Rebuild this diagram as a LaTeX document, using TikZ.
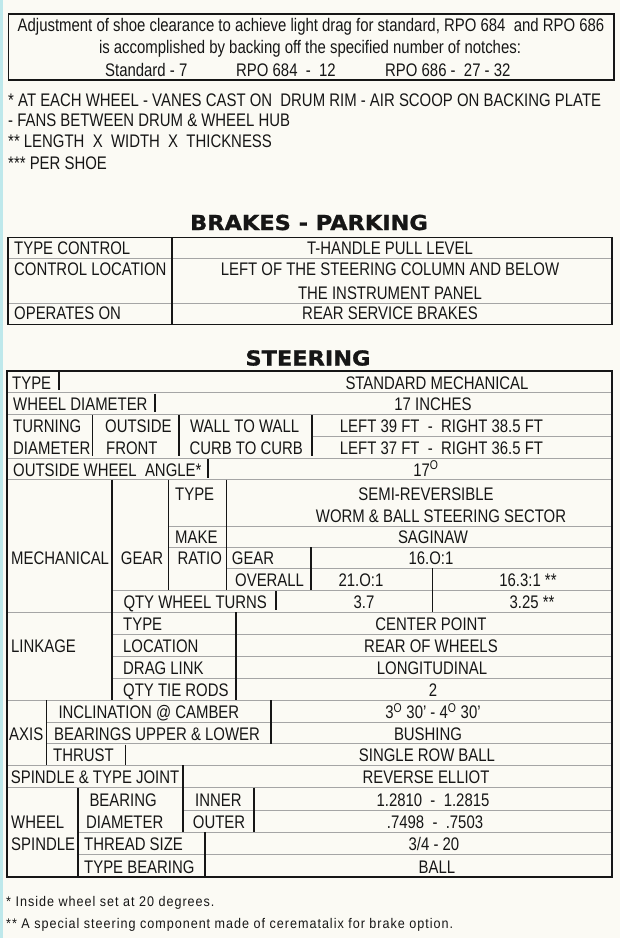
\documentclass[tikz,border=0pt]{standalone}
\usepackage{fontspec}
\setmainfont{Liberation Sans}[FakeStretch=0.82]
\newfontfamily\titlefont{DejaVu Sans}[FakeStretch=1.09,FakeBold=1.2]
\newfontfamily\footfont{Liberation Sans}[FakeStretch=0.9,LetterSpace=7]
\definecolor{bgc}{RGB}{251,250,244}
\definecolor{stripc}{RGB}{190,232,235}
\definecolor{rowgray}{RGB}{165,165,165}
\definecolor{ink}{RGB}{22,22,22}
\newcommand\msz{\fontsize{18.2}{20}\selectfont}
\newcommand\tsz{\titlefont\bfseries\fontsize{20.6}{24}\selectfont}
\newcommand\fsz{\footfont\fontsize{14}{16}\selectfont}
\begin{document}
\begin{tikzpicture}[x=1pt,y=-1pt,
  lab/.style={anchor=base west,inner sep=0pt,font=\msz,text=ink},
  val/.style={anchor=base,inner sep=0pt,font=\msz,text=ink},
  ttl/.style={anchor=base,inner sep=0pt,font=\tsz,text=ink},
  fnt/.style={anchor=base west,inner sep=0pt,font=\fsz,text=ink},
  hl/.style={draw=rowgray,line width=0.6pt},
  vl/.style={draw=ink,line width=1.2pt},
  frame/.style={draw=ink,line width=1.3pt}]
\fill[bgc] (0,0) rectangle (620,938);
\useasboundingbox (0,0) rectangle (620,938);
\fill[stripc] (0,0) rectangle (2.5,938);

% ---------- top box ----------
\draw[frame] (8.5,14) rectangle (614,80);
\node[val] (t1) at (311,31.8) {Adjustment of shoe clearance to achieve light drag for standard, RPO 684~ and RPO 686};
\node[val] (t2) at (310,53.3) {is accomplished by backing off the specified number of notches:};
\node[lab] (t3a) at (105,76.3) {Standard - 7};
\node[lab] (t3b) at (236,76.3) {RPO 684~ -~ 12};
\node[lab] (t3c) at (385,76.3) {RPO 686 -~ 27 - 32};

\node[lab] (f1) at (8,106.8) {* AT EACH WHEEL - VANES CAST ON~ DRUM RIM - AIR SCOOP ON BACKING PLATE};
\node[lab] (f2) at (8,126.1) {- FANS BETWEEN DRUM \& WHEEL HUB};
\node[lab] (f3) at (8,147.5) {** LENGTH~ X~ WIDTH~ X~ THICKNESS};
\node[lab] (f4) at (8,169.5) {*** PER SHOE};

% ---------- parking ----------
\node[ttl] (pt) at (309,230) {BRAKES - PARKING};
\draw[hl] (8,258) -- (612,258);
\draw[hl] (8,303) -- (612,303);
\draw[frame] (8,237.5) rectangle (612,324.5);
\draw[vl] (172,237.5) -- (172,324.5);
\node[lab] (p1) at (14,254.8) {TYPE CONTROL};
\node[lab] (p2) at (14,275.8) {CONTROL LOCATION};
\node[lab] (p3) at (14,319.8) {OPERATES ON};
\node[val] (p1v) at (390,254.8) {T-HANDLE PULL LEVEL};
\node[val] (p2v) at (390,275.8) {LEFT OF THE STEERING COLUMN AND BELOW};
\node[val] (p2w) at (390,299.3) {THE INSTRUMENT PANEL};
\node[val] (p3v) at (390,319.8) {REAR SERVICE BRAKES};

% ---------- steering ----------
\node[ttl] (st) at (308,365.5) {STEERING};
% horizontal row lines
\draw[hl] (7,392.5) -- (612,392.5);
\draw[hl] (7,414) -- (612,414);
\draw[hl] (312,436.5) -- (612,436.5);
\draw[hl] (7,458) -- (612,458);
\draw[hl] (7,479.5) -- (612,479.5);
\draw[hl] (168.5,526) -- (612,526);
\draw[hl] (168.5,547) -- (612,547);
\draw[hl] (226.5,568) -- (612,568);
\draw[hl] (112,590) -- (612,590);
\draw[hl] (7,612) -- (612,612);
\draw[hl] (112,634.5) -- (612,634.5);
\draw[hl] (112,656.5) -- (612,656.5);
\draw[hl] (112,678) -- (612,678);
\draw[hl] (7,700) -- (612,700);
\draw[hl] (46.7,722) -- (612,722);
\draw[hl] (46.7,743.5) -- (612,743.5);
\draw[hl] (7,765) -- (612,765);
\draw[hl] (7,787.5) -- (612,787.5);
\draw[hl] (183,810) -- (612,810);
\draw[hl] (78,832) -- (612,832);
\draw[hl] (78,854.5) -- (612,854.5);
% vertical separators
\draw[vl] (59,371) -- (59,390);
\draw[vl] (155,393.5) -- (155,412);
\draw[vl] (92.7,415) -- (92.7,456);
\draw[vl] (179,415) -- (179,456);
\draw[vl] (312,415) -- (312,456);
\draw[vl] (208,459) -- (208,478);
\draw[vl] (112,479.5) -- (112,700);
\draw[vl] (168.5,479.5) -- (168.5,590);
\draw[vl] (226.5,479.5) -- (226.5,590);
\draw[vl] (311,547) -- (311,590);
\draw[vl] (432.5,568) -- (432.5,612);
\draw[vl] (276,591) -- (276,610);
\draw[vl] (236,612) -- (236,700);
\draw[vl] (46.7,700) -- (46.7,765);
\draw[vl] (271,700) -- (271,743.5);
\draw[vl] (125.7,744.5) -- (125.7,765);
\draw[vl] (183,765) -- (183,832);
\draw[vl] (78,787.5) -- (78,877);
\draw[vl] (254,787.5) -- (254,832);
\draw[vl] (205,832) -- (205,877);
\draw[frame] (7,371) rectangle (612,877);

% labels
\node[lab] (s1) at (12,389) {TYPE};
\node[lab] (s2) at (13,410.5) {WHEEL DIAMETER};
\node[lab] (s3a) at (13,432.5) {TURNING};
\node[lab] (s3b) at (105,432.5) {OUTSIDE};
\node[lab] (s3c) at (190,432.5) {WALL TO WALL};
\node[lab] (s4a) at (13,454.5) {DIAMETER};
\node[lab] (s4b) at (106,454.5) {FRONT};
\node[lab] (s4c) at (189.3,454.5) {CURB TO CURB};
\node[lab] (s5) at (13,476) {OUTSIDE WHEEL~ ANGLE*};
\node[val] (s1v) at (437,389) {STANDARD MECHANICAL};
\node[val] (s2v) at (433,410.5) {17 INCHES};
\node[val] (s3v) at (441.5,432.5) {LEFT 39 FT~ -~ RIGHT 38.5 FT};
\node[val] (s4v) at (441.5,454.5) {LEFT 37 FT~ -~ RIGHT 36.5 FT};
\node[val] (s5v) at (426,476) {17\textsuperscript{O}};

\node[lab] (m1) at (11,564.8) {MECHANICAL};
\node[lab] (m2) at (120.7,564.8) {GEAR};
\node[lab] (m3) at (175,500.3) {TYPE};
\node[lab] (m4) at (175,543.8) {MAKE};
\node[lab] (m5) at (177.3,564.8) {RATIO};
\node[lab] (m6) at (231.7,564.8) {GEAR};
\node[lab] (m7) at (235,586.3) {OVERALL};
\node[lab] (m8) at (123.3,608.3) {QTY WHEEL TURNS};
\node[val] (m3v) at (426,500.3) {SEMI-REVERSIBLE};
\node[val] (m3w) at (441,522.8) {WORM \& BALL STEERING SECTOR};
\node[val] (m4v) at (433,543.8) {SAGINAW};
\node[val] (m6v) at (431,564.8) {16.O:1};
\node[val] (m7v) at (361,586.3) {21.O:1};
\node[val] (m7w) at (528,586.3) {16.3:1 **};
\node[val] (m8v) at (364,608.3) {3.7};
\node[val] (m8w) at (532,608.3) {3.25 **};

\node[lab] (k0) at (11,652.8) {LINKAGE};
\node[lab] (k1) at (123,630.5) {TYPE};
\node[lab] (k2) at (123,652.8) {LOCATION};
\node[lab] (k3) at (123,674.5) {DRAG LINK};
\node[lab] (k4) at (123,696.3) {QTY TIE RODS};
\node[val] (k1v) at (431,630.5) {CENTER POINT};
\node[val] (k2v) at (431,652.8) {REAR OF WHEELS};
\node[val] (k3v) at (432,674.5) {LONGITUDINAL};
\node[val] (k4v) at (433,696.3) {2};

\node[lab] (a0) at (9,740) {AXIS};
\node[lab] (a1) at (58.3,718.3) {INCLINATION @ CAMBER};
\node[lab] (a2) at (54,740) {BEARINGS UPPER \& LOWER};
\node[lab] (a3) at (53,761.5) {THRUST};
\node[val] (a1v) at (433,718.3) {3\textsuperscript{O} 30' - 4\textsuperscript{O} 30'};
\node[val] (a2v) at (428,740) {BUSHING};
\node[val] (a3v) at (427,761.5) {SINGLE ROW BALL};

\node[lab] (w0) at (10.7,783.5) {SPINDLE \& TYPE JOINT};
\node[val] (w0v) at (426,783.5) {REVERSE ELLIOT};
\node[lab] (w1) at (11,828.3) {WHEEL};
\node[lab] (w2) at (11,850.5) {SPINDLE};
\node[lab] (w3) at (89.3,806) {BEARING};
\node[lab] (w4) at (86,828.3) {DIAMETER};
\node[lab] (w5) at (195,806) {INNER};
\node[lab] (w6) at (192.7,828.3) {OUTER};
\node[lab] (w7) at (84,850.5) {THREAD SIZE};
\node[lab] (w8) at (84,873) {TYPE BEARING};
\node[val] (w5v) at (433,806) {1.2810~ -~ 1.2815};
\node[val] (w6v) at (435,828.3) {.7498~ -~ .7503};
\node[val] (w7v) at (434,850.5) {3/4 - 20};
\node[val] (w8v) at (437,873) {BALL};

% ---------- bottom notes ----------
\node[fnt] (n1) at (6,906.5) {* Inside wheel set at 20 degrees.};
\node[fnt] (n2) at (6,928) {** A special steering component made of cerematalix for brake option.};
\end{tikzpicture}
\end{document}
